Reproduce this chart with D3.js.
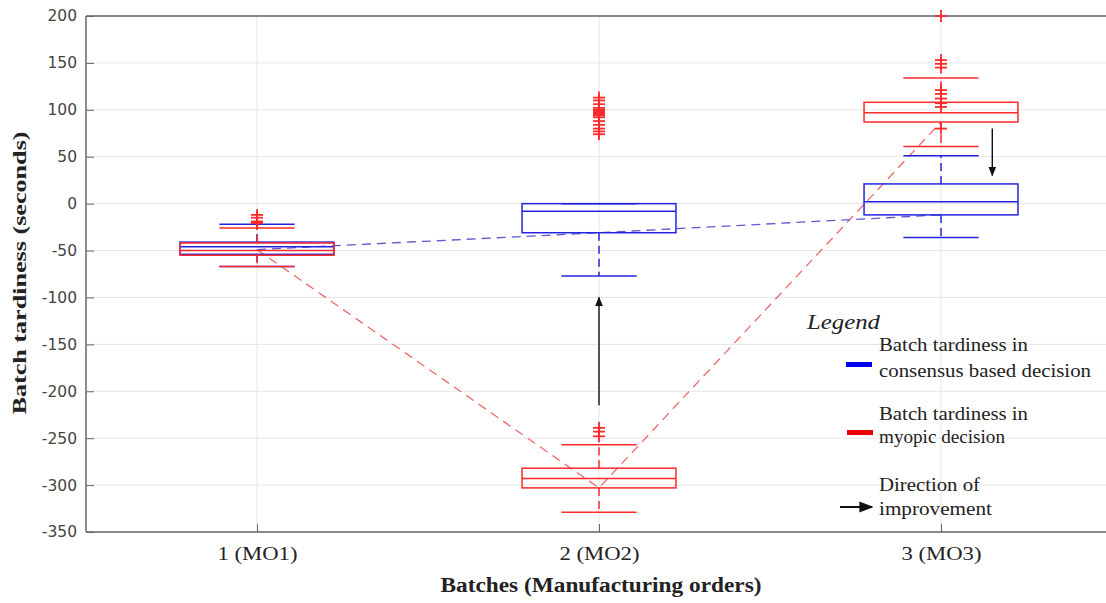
<!DOCTYPE html>
<html><head><meta charset="utf-8">
<script src="https://cdn.jsdelivr.net/npm/d3@7"></script>
<style>body{margin:0;background:#fff}svg{display:block}</style>
</head><body>
<svg id="c" width="1106" height="603"></svg>
<script>
// ---- data ----
const categories = ["1 (MO1)", "2 (MO2)", "3 (MO3)"];
const yTicks = [200,150,100,50,0,-50,-100,-150,-200,-250,-300,-350];
// consensus based decision (blue)
const blueQ1 = [-54, -31, -12];
const blueMedian = [-46, -8, 2];
const blueQ3 = [-41, 0, 21];
const blueLow = [-67, -77, -36];
const blueHigh = [-22, 0, 51];
const blueTrend = [-49, -31, -12];
// myopic decision (red)
const redQ1 = [-55, -303, 87];
const redMedian = [-50, -293, 97];
const redQ3 = [-42, -282, 108];
const redLow = [-67, -329, 61];
const redHigh = [-26, -257, 134];
const redTrend = [-49, -303, 87];
const redOutliers = [
  [-12, -15, -19, -20, -21],
  [74, 77, 80, 84, 88, 92, 94, 95, 96, 97, 98, 99, 100, 102, 106, 110, 113, -239, -243, -248],
  [200, 153, 149, 145, 121, 117, 112, 107, 103, 80]
];
// direction of improvement arrows: [category position, from, to]
const arrows = [[2, -215, -100], [3.15, 80, 30]];

// ---- layout ----
const svg = d3.select("#c");
const x = d3.scaleLinear().domain([0.5, 3.5]).range([86, 1112]);
const y = d3.scaleLinear().domain([-350, 200]).range([532, 16]);
const BLUE = "#2424e0", RED = "#ff2a2a";
const boxHalf = 0.225, capHalf = 0.11;

svg.append("defs").append("marker").attr("id","ah").attr("viewBox","0 0 10 10")
  .attr("refX",9).attr("refY",5).attr("markerWidth",7).attr("markerHeight",7).attr("orient","auto")
  .append("path").attr("d","M0,1 L10,5 L0,9 z").attr("fill","#111");

// grid
svg.append("g").selectAll("line").data(yTicks).join("line")
  .attr("x1", 86).attr("x2", 1106).attr("y1", d => y(d)).attr("y2", d => y(d))
  .attr("stroke", "#e6e6e6").attr("stroke-width", 1);
svg.append("g").selectAll("line").data(categories).join("line")
  .attr("x1", (d,i) => x(i+1)).attr("x2", (d,i) => x(i+1)).attr("y1", 16).attr("y2", 532)
  .attr("stroke", "#e6e6e6").attr("stroke-width", 1);

// axes frame
svg.append("line").attr("x1",86).attr("x2",1106).attr("y1",16).attr("y2",16).attr("stroke","#666").attr("stroke-width",1.5);
svg.append("line").attr("x1",86).attr("x2",1106).attr("y1",532).attr("y2",532).attr("stroke","#666").attr("stroke-width",1.5);
svg.append("line").attr("x1",86).attr("x2",86).attr("y1",16).attr("y2",532).attr("stroke","#666").attr("stroke-width",1.5);

// trend lines
const line = d3.line().x((d,i) => x(i+1)).y(d => y(d));
svg.append("path").attr("d", line(redTrend)).attr("fill","none")
  .attr("stroke","#ec6a6a").attr("stroke-width",1.3).attr("stroke-dasharray","9,6");
svg.append("path").attr("d", line(blueTrend)).attr("fill","none")
  .attr("stroke","#5a5ad0").attr("stroke-width",1.3).attr("stroke-dasharray","9,6");

function drawBoxes(q1, med, q3, lo, hi, color) {
  const g = svg.append("g").attr("stroke", color).attr("fill", "none").attr("stroke-width", 1.5);
  categories.forEach((c, i) => {
    const cx = i + 1;
    g.append("line").attr("x1", x(cx)).attr("x2", x(cx)).attr("y1", y(q3[i])).attr("y2", y(hi[i]))
      .attr("stroke-dasharray", "8,5");
    g.append("line").attr("x1", x(cx)).attr("x2", x(cx)).attr("y1", y(q1[i])).attr("y2", y(lo[i]))
      .attr("stroke-dasharray", "8,5");
    [lo[i], hi[i]].forEach(v => g.append("line")
      .attr("x1", x(cx - capHalf)).attr("x2", x(cx + capHalf)).attr("y1", y(v)).attr("y2", y(v)));
    g.append("rect").attr("x", x(cx - boxHalf)).attr("width", x(cx + boxHalf) - x(cx - boxHalf))
      .attr("y", y(q3[i])).attr("height", y(q1[i]) - y(q3[i]));
    g.append("line").attr("x1", x(cx - boxHalf)).attr("x2", x(cx + boxHalf))
      .attr("y1", y(med[i])).attr("y2", y(med[i]));
  });
}
drawBoxes(blueQ1, blueMedian, blueQ3, blueLow, blueHigh, BLUE);
drawBoxes(redQ1, redMedian, redQ3, redLow, redHigh, RED);

// outliers (+)
const og = svg.append("g").attr("stroke", RED).attr("stroke-width", 1.8);
redOutliers.forEach((arr, i) => arr.forEach(v => {
  og.append("line").attr("x1", x(i+1)-6).attr("x2", x(i+1)+6).attr("y1", y(v)).attr("y2", y(v));
  og.append("line").attr("x1", x(i+1)).attr("x2", x(i+1)).attr("y1", y(v)-6).attr("y2", y(v)+6);
}));

// improvement arrows
arrows.forEach(a => svg.append("line")
  .attr("x1", x(a[0])).attr("x2", x(a[0])).attr("y1", y(a[1])).attr("y2", y(a[2]))
  .attr("stroke", "#111").attr("stroke-width", 1.4).attr("marker-end", "url(#ah)"));

const yAxis = d3.axisLeft(y).tickValues(yTicks).tickFormat(d => String(d)).tickSize(-8).tickPadding(9);
const ya = svg.append("g").attr("transform","translate(86,0)").call(yAxis);
ya.select(".domain").remove();
ya.selectAll(".tick line").attr("stroke","#666");
ya.selectAll("text").attr("font-family","DejaVu Sans").attr("font-size",15.5).attr("fill","#444");

const xAxis = d3.axisBottom(x).tickValues([1,2,3]).tickFormat(d => categories[d-1]).tickSize(-8).tickPadding(15);
const xa = svg.append("g").attr("transform","translate(0,532)").call(xAxis);
xa.select(".domain").remove();
xa.selectAll(".tick line").attr("stroke","#666");
xa.selectAll("text").attr("font-family","Liberation Serif").attr("font-size",18).attr("fill","#222")
  .attr("textLength",80).attr("lengthAdjust","spacingAndGlyphs");

// axis titles
svg.append("text").attr("x",601).attr("y",592).attr("text-anchor","middle")
  .attr("font-family","Liberation Serif").attr("font-weight","bold").attr("font-size",20).attr("fill","#222")
  .attr("textLength",321).attr("lengthAdjust","spacingAndGlyphs")
  .text("Batches (Manufacturing orders)");
svg.append("text").attr("transform","translate(26,273) rotate(-90)").attr("text-anchor","middle")
  .attr("font-family","Liberation Serif").attr("font-weight","bold").attr("font-size",19).attr("fill","#222")
  .attr("textLength",283).attr("lengthAdjust","spacingAndGlyphs")
  .text("Batch tardiness (seconds)");

// legend
const lg = svg.append("g").attr("font-family","Liberation Serif").attr("font-size",19).attr("fill","#222");
function lt(xp, yp, s, w) {
  return lg.append("text").attr("x",xp).attr("y",yp).attr("textLength",w)
    .attr("lengthAdjust","spacingAndGlyphs").text(s);
}
lt(807, 329, "Legend", 73).attr("font-style","italic").attr("font-size",22);
lg.append("rect").attr("x",846).attr("y",362).attr("width",26).attr("height",5).attr("fill","#0000ee");
lt(879, 351, "Batch tardiness in", 149);
lt(879, 377, "consensus based decision", 212);
lg.append("rect").attr("x",847).attr("y",430).attr("width",26).attr("height",5).attr("fill","#ee0000");
lt(879, 420, "Batch tardiness in", 149);
lt(879, 443, "myopic decision", 126);
lg.append("line").attr("x1",840).attr("x2",872).attr("y1",507).attr("y2",507)
  .attr("stroke","#111").attr("stroke-width",2).attr("marker-end","url(#ah)");
lt(879, 491, "Direction of", 101);
lt(879, 515, "improvement", 113);
</script>
</body></html>
